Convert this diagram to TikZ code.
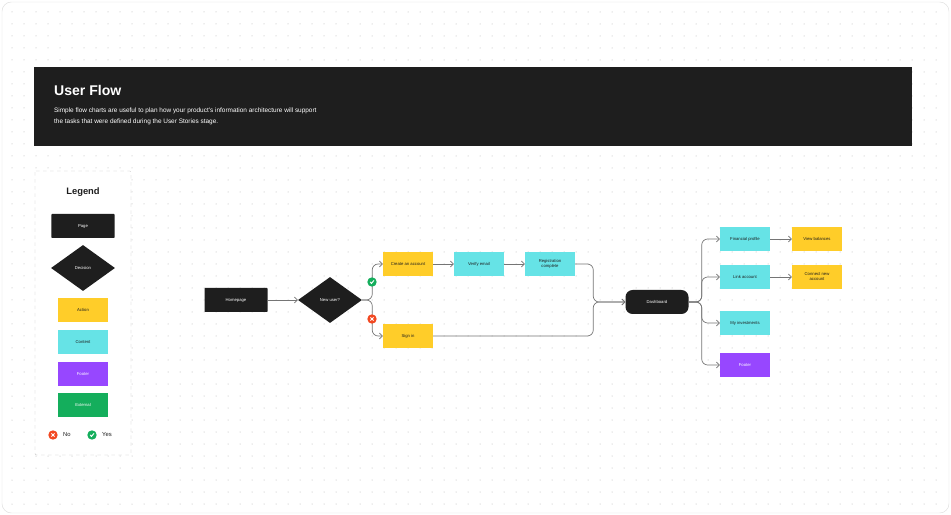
\documentclass[tikz,border=0pt]{standalone}
\usepackage{fontspec}
\setmainfont{Liberation Sans}
\usetikzlibrary{shapes.geometric,arrows.meta,positioning}
\definecolor{ink}{HTML}{1E1E1E}
\definecolor{action}{HTML}{FFCD29}
\definecolor{content}{HTML}{66E3E6}
\definecolor{footer}{HTML}{9747FF}
\definecolor{external}{HTML}{14AE5C}
\definecolor{nored}{HTML}{F24822}
\definecolor{wire}{HTML}{757575}
\begin{document}
\begin{tikzpicture}[x=0.03cm,y=-0.03cm,
    box/.style={shape=rectangle, minimum width=1.5cm, minimum height=0.72cm, inner sep=1pt,
      align=center, font=\fontsize{3.6}{4.2}\selectfont, text=ink},
    page/.style={box, fill=ink, text=white, minimum width=1.89cm, rounded corners=0.5pt},
    decide/.style={shape=diamond, fill=ink, text=white, inner sep=0pt, minimum width=1.92cm,
      minimum height=1.38cm, font=\fontsize{3.6}{4.2}\selectfont},
    act/.style={box, fill=action},
    cont/.style={box, fill=content},
    foot/.style={box, fill=footer, text=white},
    ext/.style={box, fill=external, text=white},
    flow/.style={draw=wire, line width=0.6pt, rounded corners=5pt, -{Straight Barb[length=2.5pt,width=5pt]}},
    yes/.style={circle, fill=external, inner sep=0pt, minimum size=8pt},
    no/.style={circle, fill=nored, inner sep=0pt, minimum size=8pt}]
  \useasboundingbox (0,0) rectangle (951,515);
  % frame and dot grid
  \draw[fill=white, draw=gray!25, rounded corners=8pt] (2,2) rectangle (949,513);
  \foreach \i in {0,...,77} {
    \foreach \j in {0,...,41} {
      \fill[gray!60] ({12+12*\i},{12+12*\j}) circle (0.5);
    }
  }
  % header
  \fill[ink] (34,67) rectangle (912,146);
  \node[anchor=west, text=white, font=\fontsize{12}{14}\selectfont\bfseries] (title) at (50,90) {User Flow};
  \node[anchor=north west, text=white, align=left, font=\fontsize{5.5}{9}\selectfont] (subtitle) at (50,104)
    {Simple flow charts are useful to plan how your product's information architecture will support\\
     the tasks that were defined during the User Stories stage.};
  % legend
  \draw[gray!45, dashed, fill=white, rounded corners=1pt] (35,171) rectangle (131,455);
  \node[font=\fontsize{8}{9}\selectfont\bfseries, text=ink] (legend) at (83,192) {Legend};
  \node[page] (lpage) at (83,226) {Page};
  \node[decide] (ldecide) at (83,268) {Decision};
  \node[act] (laction) at (83,310) {Action};
  \node[cont] (lcontent) at (83,342) {Content};
  \node[foot] (lfooter) at (83,374) {Footer};
  \node[ext] (lexternal) at (83,405) {External};
  \node[no] (lno) at (53,435) {};
  \node[right=1pt of lno, font=\fontsize{5}{6}\selectfont, text=ink] {No};
  \node[yes] (lyes) at (92,435) {};
  \node[right=1pt of lyes, font=\fontsize{5}{6}\selectfont, text=ink] {Yes};
  % flow
  \node[page] (home) at (236,300) {Homepage};
  \node[decide] (newuser) at (330,300) {New user?};
  \node[act] (create) at (408,264) {Create an account};
  \node[act] (signin) at (408,336) {Sign in};
  \node[cont] (verify) at (479,264) {Verify email};
  \node[cont] (regdone) at (550,264) {Registration\\complete};
  \node[page, rounded corners=6pt] (dash) at (657,302) {Dashboard};
  \node[cont] (finprof) at (745,239) {Financial profile};
  \node[cont] (link) at (745,277) {Link account};
  \node[cont] (invest) at (745,323) {My investments};
  \node[foot] (footer) at (745,365) {Footer};
  \node[act] (balance) at (817,239) {View balances};
  \node[act] (connect) at (817,277) {Connect new\\account};
  \draw[flow] (home) -- (newuser);
  \draw[flow] (newuser.east) -- ++(10,0) |- (create.west);
  \draw[flow] (newuser.east) -- ++(10,0) |- (signin.west);
  \draw[flow] (create) -- (verify);
  \draw[flow] (verify) -- (regdone);
  \draw[flow] (regdone.east) -- ++(18,0) |- (dash.west);
  \draw[flow] (signin.east) -- ++(160,0) |- (dash.west);
  \draw[flow] (dash.east) -- ++(13,0) |- (finprof.west);
  \draw[flow] (dash.east) -- ++(13,0) |- (link.west);
  \draw[flow] (dash.east) -- ++(13,0) |- (invest.west);
  \draw[flow] (dash.east) -- ++(13,0) |- (footer.west);
  \draw[flow] (finprof) -- (balance);
  \draw[flow] (link) -- (connect);
  \node[yes] (ok) at (372,282) {};
  \node[no] (ko) at (372,319) {};
  % icon marks
  \foreach \c in {lyes,ok} \draw[white, line width=0.8pt] ([shift={(-1.8,0)}]\c.center) -- ([shift={(-0.5,1.4)}]\c.center) -- ([shift={(2,-1.6)}]\c.center);
  \foreach \c in {lno,ko} \draw[white, line width=0.8pt] ([shift={(-1.6,-1.6)}]\c.center) -- ([shift={(1.6,1.6)}]\c.center) ([shift={(-1.6,1.6)}]\c.center) -- ([shift={(1.6,-1.6)}]\c.center);
\end{tikzpicture}
\end{document}
